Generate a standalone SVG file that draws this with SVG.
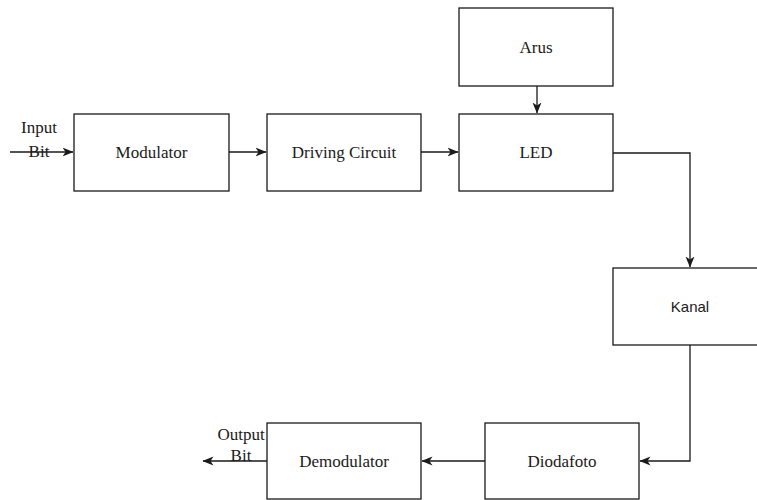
<svg xmlns="http://www.w3.org/2000/svg" width="757" height="500" viewBox="0 0 757 500">
<style>
.box{fill:#fff;stroke:#1a1a1a;stroke-width:1.3}
.t{font-family:"Liberation Serif",serif;font-size:17px;fill:#1a1a1a;text-anchor:middle}
.s{font-family:"Liberation Sans",sans-serif;font-size:15px;fill:#1a1a1a;text-anchor:middle}
.c{fill:none;stroke:#1a1a1a;stroke-width:1.3}
</style>
<defs>
<marker id="ar" viewBox="0 0 11 10" refX="10.5" refY="5" markerWidth="11" markerHeight="10" markerUnits="userSpaceOnUse" orient="auto">
<path d="M0,0.5 L11,5 L0,9.5 L3,5 Z" fill="#1a1a1a"/>
</marker>
</defs>
<rect width="757" height="500" fill="#fff"/>
<g id="connectors">
<path class="c" d="M10,152 H73" marker-end="url(#ar)"/>
<path class="c" d="M229,152 H266" marker-end="url(#ar)"/>
<path class="c" d="M421,152 H458" marker-end="url(#ar)"/>
<path class="c" d="M537,86 V113" marker-end="url(#ar)"/>
<path class="c" d="M613,153 H690 V267" marker-end="url(#ar)"/>
<path class="c" d="M690,345 V461 H640" marker-end="url(#ar)"/>
<path class="c" d="M485,461 H422" marker-end="url(#ar)"/>
<path class="c" d="M267,461 H203" marker-end="url(#ar)"/>
</g>
<g id="input-label">
<text class="t" x="39" y="133">Input</text>
<text class="t" x="39" y="157">Bit</text>
</g>
<g id="output-label">
<text class="t" x="241" y="440">Output</text>
<text class="t" x="241" y="461">Bit</text>
</g>
<g id="modulator"><rect class="box" x="74" y="114" width="155" height="77"/><text class="t" x="151.5" y="158">Modulator</text></g>
<g id="driving"><rect class="box" x="267" y="114" width="154" height="77"/><text class="t" x="344" y="158">Driving Circuit</text></g>
<g id="led"><rect class="box" x="459" y="114" width="154" height="77"/><text class="t" x="536" y="158">LED</text></g>
<g id="arus"><rect class="box" x="459" y="8" width="154" height="78"/><text class="t" x="536" y="53">Arus</text></g>
<g id="kanal"><rect class="box" x="613" y="268" width="155" height="77"/><text class="s" x="690" y="312">Kanal</text></g>
<g id="diodafoto"><rect class="box" x="485" y="423" width="154" height="76"/><text class="t" x="562" y="467">Diodafoto</text></g>
<g id="demodulator"><rect class="box" x="267" y="423" width="154" height="76"/><text class="t" x="344" y="467">Demodulator</text></g>
</svg>
